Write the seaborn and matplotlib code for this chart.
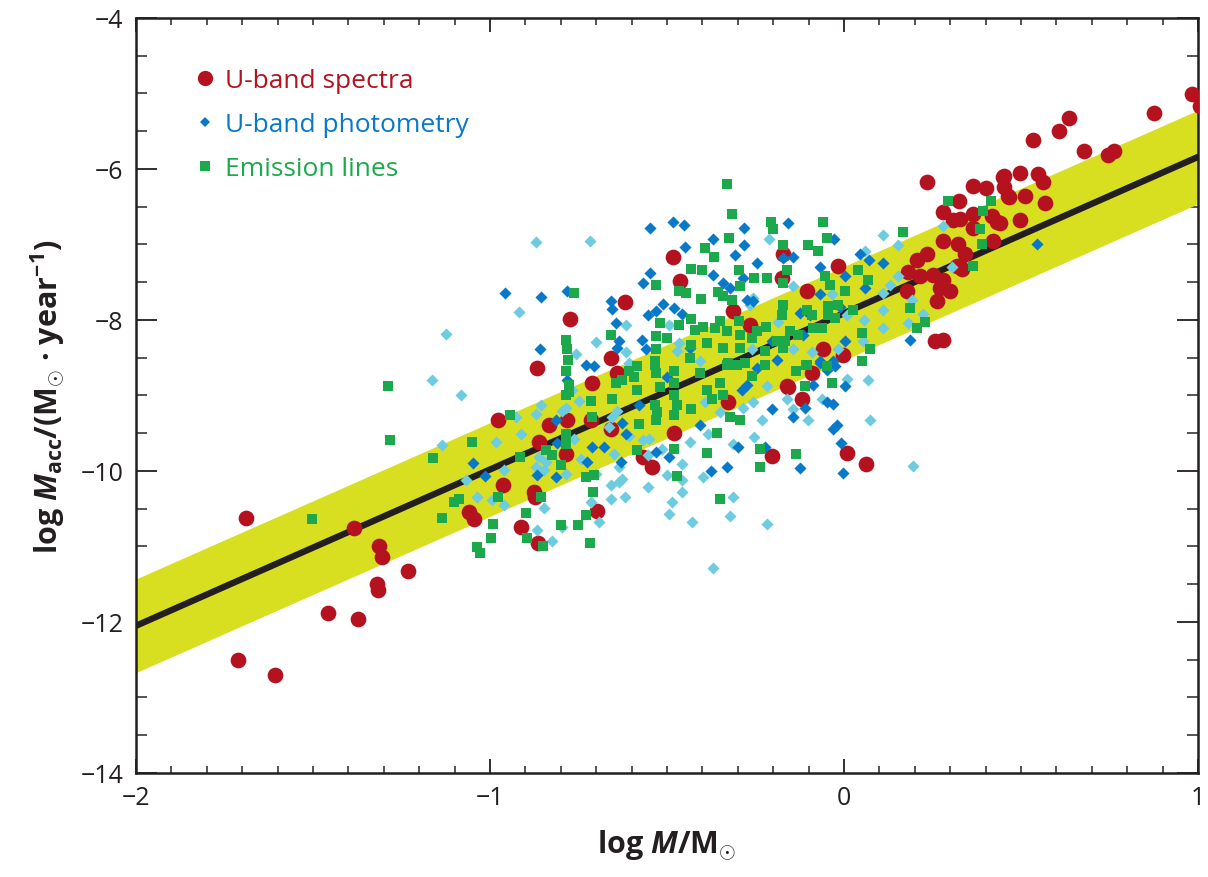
import matplotlib
matplotlib.use("Agg")
import matplotlib.pyplot as plt
from matplotlib.lines import Line2D
from matplotlib.ticker import MultipleLocator
import numpy as np
import pandas as pd
import seaborn as sns

# ---------------- data (log M/Msun, log Macc) ----------------
spec_x = [0.983, 1.005, 0.875, 0.637, 0.606, 0.535, 0.677, 0.745, 0.762, 0.453, 0.453, 0.496, 0.547, 0.561,
          0.467, 0.51, 0.567, 0.442, 0.496, 0.235, 0.365, 0.402, 0.45, 0.462, 0.326, 0.28, 0.309, 0.329,
          0.365, 0.365, 0.419, 0.433, 0.28, 0.323, 0.422, 0.235, 0.207, 0.343, 0.32, 0.334, 0.181, 0.215,
          0.252, 0.28, 0.272, 0.30, 0.178, 0.263, 0.258, 0.28, -0.017, -0.105, -0.059, -0.003, -0.484,
          -0.462, -0.618, -0.773, -0.657, -0.173, -0.176, -0.314, -0.266, -0.867, -0.977, -0.833, -0.861,
          -0.785, -0.963, -0.875, -0.873, -1.06, -1.045, -0.912, -0.864, -1.385, -1.314, -1.306, -1.232,
          -0.782, -0.711, -0.64, -0.714, -0.657, -0.479, -0.569, -0.541, -0.329, -0.204, -0.161, -0.697,
          -0.091, -0.159, -0.119, 0.008, 0.062, -1.688, -1.32, -1.317, -1.459, -1.374, -1.711, -1.606]
spec_y = [-5.01, -5.17, -5.26, -5.33, -5.50, -5.62, -5.76, -5.82, -5.76, -6.09, -6.24, -6.05, -6.07, -6.17,
          -6.37, -6.36, -6.45, -6.71, -6.67, -6.17, -6.22, -6.25, -6.11, -6.36, -6.42, -6.57, -6.68, -6.66,
          -6.59, -6.78, -6.62, -6.70, -6.95, -6.99, -6.95, -7.12, -7.21, -7.12, -7.28, -7.32, -7.36, -7.42,
          -7.41, -7.47, -7.58, -7.62, -7.62, -7.75, -8.28, -8.26, -7.29, -7.62, -8.39, -8.46, -7.16,
          -7.49, -7.76, -7.99, -8.50, -7.13, -7.45, -7.88, -8.07, -8.64, -9.32, -9.39, -9.61,
          -9.78, -10.18, -10.28, -10.34, -10.54, -10.64, -10.74, -10.95, -10.76, -10.99, -11.14, -11.32,
          -9.33, -8.83, -8.70, -9.32, -9.45, -9.50, -9.82, -9.95, -9.09, -9.80, -8.87, -10.53,
          -8.70, -8.89, -9.05, -9.76, -9.91, -10.62, -11.50, -11.57, -11.88, -11.96, -12.50, -12.70]

phot_dark_x = [-0.958, -0.856, -0.858, -0.782, -0.482, -0.453, -0.547, -0.450, -0.371, -0.283, -0.283, -0.159,
               -0.309, -0.246, -0.547, -0.569, -0.371, -0.343, -0.323, -0.286, -0.510, -0.479, -0.459, -0.555,
               -0.530, -0.657, -0.654, -0.643, -0.635, -0.572, -0.558, -0.640, -0.436, -0.275, -0.258, -0.204,
               -0.190, -0.728, -0.705, -0.028, 0.045, 0.071, 0.110, -0.068, 0.003, 0.059, -0.144, -0.173,
               -0.125, -0.068, -0.096, -0.011, -0.116, 0.003, 0.187, -0.068, -0.031, 0.544, -1.048, -1.014,
               -0.867, -0.813, -0.813, -0.810, -0.782, -0.204, -0.331, -0.377, -0.408, -0.300, -0.224, -0.626,
               -0.615, -0.629, -0.530, -0.493, -0.711, -0.725, -0.289, -0.275, -0.246, -0.501, -0.578, -0.677,
               -0.068, -0.048, -0.025, 0.003, -0.088, -0.110, -0.144, -0.048, -0.031, -0.031, -0.020, -0.008,
               -0.125, -0.003]
phot_dark_y = [-7.64, -7.70, -8.38, -7.61, -6.70, -6.74, -6.78, -7.03, -6.93, -6.78, -7.01, -6.72,
               -7.14, -7.25, -7.38, -7.51, -7.41, -7.51, -7.58, -7.45, -7.79, -7.84, -7.92, -7.93,
               -7.88, -7.75, -7.86, -8.04, -8.28, -8.26, -8.39, -8.37, -8.37, -7.74, -7.75, -8.28,
               -8.53, -8.59, -8.61, -6.93, -7.12, -7.21, -7.24, -7.30, -7.42, -7.58, -7.16, -7.18,
               -7.91, -7.66, -7.93, -7.83, -8.20, -8.28, -8.26, -8.54, -8.54, -6.99, -9.89, -10.07,
               -10.05, -10.08, -9.33, -9.63, -8.79, -9.18, -9.95, -10.00, -9.39, -9.68, -9.68, -9.36,
               -9.51, -9.88, -9.75, -9.82, -9.68, -9.88, -8.93, -8.86, -8.63, -8.76, -9.13, -9.68,
               -8.57, -8.66, -8.61, -8.88, -8.86, -9.16, -9.29, -9.09, -9.11, -9.45, -9.39, -9.63,
               -9.96, -10.03]

phot_light_x = [-0.870, -0.918, -1.125, -0.717, -0.212, -0.615, -0.700, -0.756, -0.615, -0.493, -0.465, -0.258,
                -0.266, -0.187, -0.261, -0.408, -0.606, -0.473, 0.110, 0.153, 0.059, 0.280, 0.306, 0.130,
                0.153, -0.144, -0.034, 0.110, 0.110, 0.193, 0.224, 0.181, 0.110, 0.057, 0.008, -0.144,
                -0.091, -0.017, 0.054, -1.164, -1.082, -1.136, -0.983, -0.912, -0.926, -0.870, -0.856, -0.960,
                -1.068, -1.037, -0.994, -0.960, -0.870, -0.847, -0.861, -0.841, -0.867, -0.824, -0.796, -0.847,
                -0.785, -0.785, -0.768, -0.796, -0.762, -0.748, -0.663, -0.654, -0.640, -0.606, -0.569, -0.550,
                -0.649, -0.635, -0.657, -0.635, -0.626, -0.657, -0.620, -0.555, -0.555, -0.513, -0.501, -0.459,
                -0.459, -0.459, -0.487, -0.493, -0.428, -0.436, -0.385, -0.399, -0.314, -0.323, -0.314, -0.255,
                -0.258, -0.232, -0.218, -0.371, -0.714, -0.691, -0.286, -0.218, -0.394, -0.351, -0.742, -0.700,
                0.068, 0.008, -0.062, -0.161, -0.144, -0.102, 0.074, 0.195]
phot_light_y = [-6.97, -7.89, -8.18, -6.96, -6.93, -8.07, -8.29, -8.45, -8.43, -8.07, -8.30, -7.71,
                -7.80, -8.03, -8.39, -8.54, -8.57, -8.41, -6.88, -7.01, -7.09, -6.75, -7.30, -7.54,
                -7.42, -7.55, -7.66, -7.64, -7.87, -7.74, -7.92, -8.04, -8.11, -8.00, -7.93, -8.39,
                -8.43, -8.39, -8.28, -8.80, -9.00, -9.66, -9.61, -9.51, -9.29, -9.24, -9.13, -9.99,
                -10.12, -10.34, -10.39, -10.45, -9.95, -9.99, -9.82, -9.88, -10.78, -10.93, -10.74, -10.49,
                -9.16, -10.04, -8.93, -9.20, -9.58, -9.07, -9.42, -9.29, -9.20, -9.53, -9.59, -9.58,
                -9.78, -9.95, -10.18, -10.14, -10.11, -10.37, -10.34, -10.21, -9.79, -9.71, -10.05, -9.91,
                -10.12, -10.28, -10.41, -10.57, -10.67, -9.62, -9.51, -10.08, -10.34, -10.59, -9.64, -9.55,
                -9.09, -9.33, -10.70, -11.29, -10.41, -10.67, -9.16, -8.87, -9.09, -9.22, -9.84, -10.04,
                -8.80, -8.78, -9.05, -9.05, -9.18, -9.33, -9.33, -9.93]

emis_x = [-0.331, -0.317, -0.326, -0.394, -0.368, -0.431, -0.402, -0.530, -0.465, -0.445, -0.405, -0.357,
          -0.343, -0.317, -0.297, -0.295, -0.255, -0.218, -0.207, -0.201, -0.173, -0.173, -0.173, -0.176,
          -0.762, -0.657, -0.521, -0.465, -0.433, -0.422, -0.399, -0.365, -0.351, -0.331, -0.297, -0.295,
          -0.246, -0.221, -0.530, -0.499, -0.530, -0.431, -0.388, -0.343, -0.295, -0.261, -0.224, -0.190,
          -0.785, -0.782, -0.779, -0.586, -0.535, -0.436, -0.329, -0.280, -0.173, 0.295, 0.414, 0.394,
          0.385, 0.391, 0.363, 0.167, -0.059, -0.048, -0.102, -0.074, -0.161, 0.040, 0.068, -0.054,
          -0.040, 0.003, -0.045, -0.017, -0.045, -0.025, 0.025, -0.105, -0.091, -0.088, -0.062, -0.153,
          -0.130, -0.167, 0.187, 0.229, 0.207, 0.051, 0.074, 0.051, -0.105, -0.048, -1.289, -1.283,
          -1.161, -1.051, -0.943, -0.915, -0.841, -0.824, -0.799, -0.785, -0.785, -0.785, -1.088, -1.102,
          -0.977, -0.856, -1.136, -0.898, -0.992, -0.799, -0.997, -0.895, -0.850, -1.037, -1.028, -0.776,
          -0.776, -0.714, -0.711, -0.654, -0.643, -0.626, -0.606, -0.592, -0.586, -0.578, -0.535, -0.530,
          -0.521, -0.535, -0.527, -0.530, -0.479, -0.479, -0.479, -0.473, -0.479, -0.431, -0.388, -0.374,
          -0.351, -0.343, -0.331, -0.303, -0.261, -0.224, -0.408, -0.323, -0.295, -0.360, -0.479, -0.388,
          -0.586, -0.473, -0.238, -0.238, -0.728, -0.705, -0.708, -0.728, -0.751, -0.717, -0.351, -0.785,
          -0.136, -0.108, -0.110, -0.034, -0.136, -1.504]
emis_y = [-6.20, -6.59, -6.92, -7.04, -7.17, -7.33, -7.34, -7.54, -7.61, -7.64, -7.72, -7.63,
          -7.68, -7.74, -7.34, -7.55, -7.45, -7.45, -6.70, -6.79, -7.01, -7.51, -7.80, -7.93,
          -7.64, -8.20, -8.04, -8.07, -7.99, -8.13, -8.09, -8.11, -8.01, -8.14, -8.01, -8.20,
          -8.14, -8.09, -8.21, -8.24, -8.39, -8.33, -8.30, -8.37, -8.37, -8.24, -8.41, -8.28,
          -8.26, -8.39, -8.53, -8.61, -8.54, -8.50, -8.57, -8.57, -8.37, -6.42, -6.42, -6.55,
          -6.79, -6.99, -7.28, -6.83, -6.70, -6.92, -7.01, -7.08, -7.34, -7.34, -7.47, -7.42,
          -7.54, -7.61, -7.82, -7.80, -7.93, -7.97, -7.87, -7.87, -7.93, -8.11, -8.11, -8.14,
          -8.20, -8.28, -7.84, -8.03, -8.11, -8.17, -8.39, -8.54, -8.59, -8.61, -8.87, -9.59,
          -9.83, -9.62, -9.26, -9.82, -9.72, -9.79, -9.92, -8.67, -8.99, -9.64, -10.37, -10.41,
          -10.34, -10.34, -10.62, -10.55, -10.70, -10.71, -10.89, -10.89, -10.99, -11.01, -11.09, -8.86,
          -8.96, -9.07, -9.29, -9.05, -8.83, -8.79, -8.67, -8.76, -8.93, -9.38, -8.59, -8.70,
          -8.89, -9.12, -9.22, -9.33, -8.67, -8.83, -8.99, -9.13, -9.26, -9.18, -8.93, -9.05,
          -8.83, -9.00, -8.59, -8.59, -8.74, -8.59, -8.70, -9.29, -9.32, -9.50, -9.71, -9.76,
          -9.72, -10.07, -9.71, -9.95, -10.08, -10.05, -10.28, -10.58, -10.71, -10.95, -10.37, -9.51,
          -8.67, -8.59, -8.88, -8.83, -9.78, -10.64]

# best-fit relation and its scatter band
fit_slope = 2.07
fit_intercept = -7.91
fit_halfwidth = 0.62
x_range = [-2.0, 1.0]

labels = ["U-band spectra", "U-band photometry", "Emission lines"]

# ---------------- style ----------------
C_RED = "#B3121E"
C_DBLUE = "#0878C8"
C_LBLUE = "#6DCCDF"
C_GREEN = "#1BA94B"
C_YELLOW = "#D8DF21"
C_LINE = "#231F20"

sns.set_theme(style="ticks")
plt.rcParams["font.family"] = ["Open Sans", "DejaVu Sans"]
plt.rcParams["mathtext.fontset"] = "custom"
plt.rcParams["mathtext.rm"] = "Open Sans:bold"
plt.rcParams["mathtext.bf"] = "Open Sans:bold"
plt.rcParams["mathtext.it"] = "Open Sans:bold:italic"
plt.rcParams["axes.unicode_minus"] = True

fig = plt.figure(figsize=(12.08, 8.78), dpi=100)
ax = fig.add_axes([136 / 1208, 1 - 774 / 878, (1198 - 136) / 1208, (774 - 19) / 878])

# band and fit line
xs = np.linspace(x_range[0], x_range[1], 50)
yfit = fit_intercept + fit_slope * xs
ax.fill_between(xs, yfit - fit_halfwidth, yfit + fit_halfwidth, color=C_YELLOW, lw=0, zorder=1)
sns.lineplot(x=xs, y=yfit, color=C_LINE, lw=4.6, ax=ax, zorder=2)

df_spec = pd.DataFrame({"x": spec_x, "y": spec_y})
df_dark = pd.DataFrame({"x": phot_dark_x, "y": phot_dark_y})
df_light = pd.DataFrame({"x": phot_light_x, "y": phot_light_y})
df_emis = pd.DataFrame({"x": emis_x, "y": emis_y})

sns.scatterplot(data=df_spec, x="x", y="y", marker="o", s=128, color=C_RED, linewidth=0, ax=ax, zorder=3)
sns.scatterplot(data=df_light, x="x", y="y", marker="D", s=38, color=C_LBLUE, linewidth=0, ax=ax, zorder=4)
sns.scatterplot(data=df_dark, x="x", y="y", marker="D", s=38, color=C_DBLUE, linewidth=0, ax=ax, zorder=4)
sns.scatterplot(data=df_emis, x="x", y="y", marker="s", s=60, color=C_GREEN, linewidth=0, ax=ax, zorder=5)

ax.set_xlim(-2, 1)
ax.set_ylim(-14, -4)
ax.xaxis.set_major_locator(MultipleLocator(1))
ax.xaxis.set_minor_locator(MultipleLocator(0.1))
ax.yaxis.set_major_locator(MultipleLocator(2))
ax.yaxis.set_minor_locator(MultipleLocator(0.5))

for s in ax.spines.values():
    s.set_linewidth(1.8)
    s.set_color(C_LINE)
ax.tick_params(axis="x", which="major", direction="in", length=10, width=1.3, top=True, bottom=True,
               labelsize=18, pad=9, colors=C_LINE)
ax.tick_params(axis="x", which="minor", direction="in", length=5, width=1.1, top=True, bottom=True)
ax.tick_params(axis="y", which="major", direction="in", length=15, width=1.3, left=True, right=True,
               labelsize=18, pad=9, colors=C_LINE)
ax.tick_params(axis="y", which="minor", direction="in", length=8, width=1.1, left=True, right=True)

ax.set_xlabel(r"log $\mathit{M}$/M$_{\odot}$", fontsize=22, fontweight="bold", labelpad=12, color=C_LINE)
ax.set_ylabel(r"log $\mathit{M}_{\mathrm{acc}}$/(M$_{\odot}$ · year$^{-1}$)", fontsize=22,
              fontweight="bold", labelpad=10, color=C_LINE)

handles = [
    Line2D([], [], marker="o", ls="", color=C_RED, markersize=11, markeredgewidth=0),
    Line2D([], [], marker="D", ls="", color=C_DBLUE, markersize=5.5, markeredgewidth=0),
    Line2D([], [], marker="s", ls="", color=C_GREEN, markersize=7, markeredgewidth=0),
]
leg = ax.legend(handles, labels, loc="upper left", bbox_to_anchor=(0.045, 0.948), frameon=False,
                fontsize=19, handlelength=0.8, handletextpad=0.35, labelspacing=0.72, borderaxespad=0)
for t, c in zip(leg.get_texts(), [C_RED, C_DBLUE, C_GREEN]):
    t.set_color(c)

fig.savefig("out.png", dpi=100)
